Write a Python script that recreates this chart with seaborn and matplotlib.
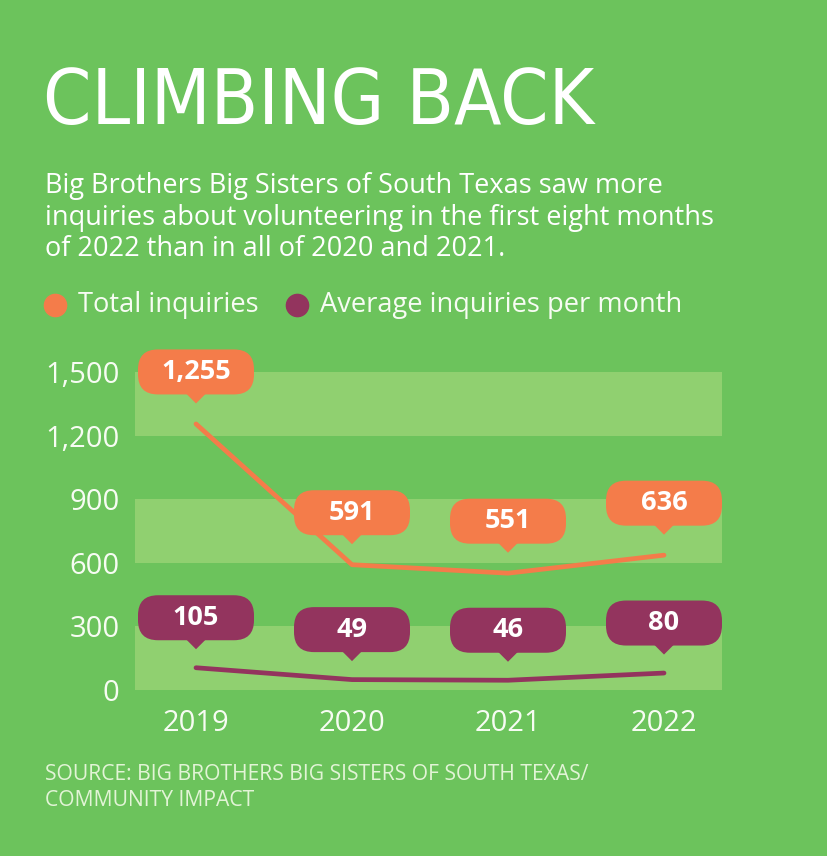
import numpy as np
import pandas as pd
import matplotlib.pyplot as plt
import matplotlib.transforms as mtransforms
from matplotlib.patches import FancyBboxPatch, Polygon
from matplotlib.lines import Line2D
import seaborn as sns

# ---- data ----
years = [2019, 2020, 2021, 2022]
total_inquiries = [1255, 591, 551, 636]
avg_per_month = [105, 49, 46, 80]
total_labels = ['1,255', '591', '551', '636']
avg_labels = ['105', '49', '46', '80']
y_ticks = [0, 300, 600, 900, 1200, 1500]
y_tick_labels = ['0', '300', '600', '900', '1,200', '1,500']
series_names = ['Total inquiries', 'Average inquiries per month']

# ---- colours ----
BG = '#6cc35c'
BAND = '#90d070'
ORANGE = '#f47c4a'
PURPLE = '#93345e'
TXT = '#f7fcf3'
SRC = '#e2f4d6'

sns.set_style('white')
plt.rcParams['font.family'] = ['Open Sans', 'DejaVu Sans']

W, H = 828, 856
fig = plt.figure(figsize=(W / 100, H / 100), dpi=100, facecolor=BG)
ax = fig.add_axes([135 / W, 1 - 690 / H, (722 - 135) / W, (690 - 372) / H])
ax.set_facecolor(BG)

# alternating bands
for lo in (0, 600, 1200):
    ax.axhspan(lo, lo + 300, color=BAND, zorder=0, lw=0)

df = pd.DataFrame({
    'year': years * 2,
    'value': total_inquiries + avg_per_month,
    'series': [series_names[0]] * 4 + [series_names[1]] * 4,
})
sns.lineplot(data=df, x='year', y='value', hue='series',
             palette={series_names[0]: ORANGE, series_names[1]: PURPLE},
             linewidth=3.4, legend=False, ax=ax, zorder=3,
             solid_capstyle='round')

ax.set_xlim(2019 - 61 / 156, 2022 + 58 / 156)
ax.set_ylim(0, 1500)
ax.set_xticks(years)
ax.set_xticklabels([str(y) for y in years], fontsize=21, color=TXT)
ax.set_yticks(y_ticks)
ax.set_yticklabels(y_tick_labels, fontsize=21, color=TXT)
ax.tick_params(axis='y', length=0, pad=11)
ax.tick_params(axis='x', length=0, pad=14)
ax.set_xlabel('')
ax.set_ylabel('')
sns.despine(ax=ax, left=True, bottom=True)


def callout(x, y, label, color, dy):
    # sizes in inches (1 in = 100 px), anchored at the data point
    trans = fig.dpi_scale_trans + mtransforms.ScaledTranslation(x, y, ax.transData)
    bw, bh = 1.16, 0.45
    box = FancyBboxPatch((-bw / 2, dy - bh / 2), bw, bh,
                         boxstyle='round,pad=0,rounding_size=0.2',
                         transform=trans, fc=color, ec='none',
                         clip_on=False, zorder=5)
    ax.add_patch(box)
    base = dy - bh / 2 + 0.01
    tri = Polygon([(-0.1, base), (0.1, base), (0, base - 0.1)], closed=True,
                  transform=trans, fc=color, ec='none', clip_on=False, zorder=5)
    ax.add_patch(tri)
    ax.text(0, dy, label, transform=trans, ha='center', va='center',
            fontsize=19.5, fontweight='bold', color='white', zorder=6)


for x, v, lab in zip(years, total_inquiries, total_labels):
    callout(x, v, lab, ORANGE, 0.52)
for x, v, lab in zip(years, avg_per_month, avg_labels):
    callout(x, v, lab, PURPLE, 0.50)

# ---- title / subtitle ----
fig.text(43 / W, 1 - 103 / H, 'CLIMBING BACK', fontsize=55.5,
         family=['DejaVu Sans'], fontstretch='condensed',
         color='white', va='center', ha='left')

sub_lines = ['Big Brothers Big Sisters of South Texas saw more',
             'inquiries about volunteering in the first eight months',
             'of 2022 than in all of 2020 and 2021.']
for i, line in enumerate(sub_lines):
    fig.text(45 / W, 1 - (186 + i * 31.5) / H, line, fontsize=19.5,
             fontweight='medium', color='white', va='center', ha='left')

# ---- legend ----
for cx, tx, col, name in [(55, 78, ORANGE, series_names[0]),
                          (297, 320, PURPLE, series_names[1])]:
    fig.add_artist(Line2D([cx / W], [1 - 305 / H], marker='o', markersize=16,
                          color=col, transform=fig.transFigure, lw=0))
    fig.text(tx / W, 1 - 305 / H, name, fontsize=19.6, color=TXT,
             va='center', ha='left')

# ---- source ----
fig.text(45 / W, 1 - 775 / H, 'SOURCE: BIG BROTHERS BIG SISTERS OF SOUTH TEXAS/',
         fontsize=15.2, color=SRC, va='center', ha='left')
fig.text(45 / W, 1 - 800 / H, 'COMMUNITY IMPACT',
         fontsize=15.2, color=SRC, va='center', ha='left')

fig.savefig('out.png', dpi=100, facecolor=BG)
